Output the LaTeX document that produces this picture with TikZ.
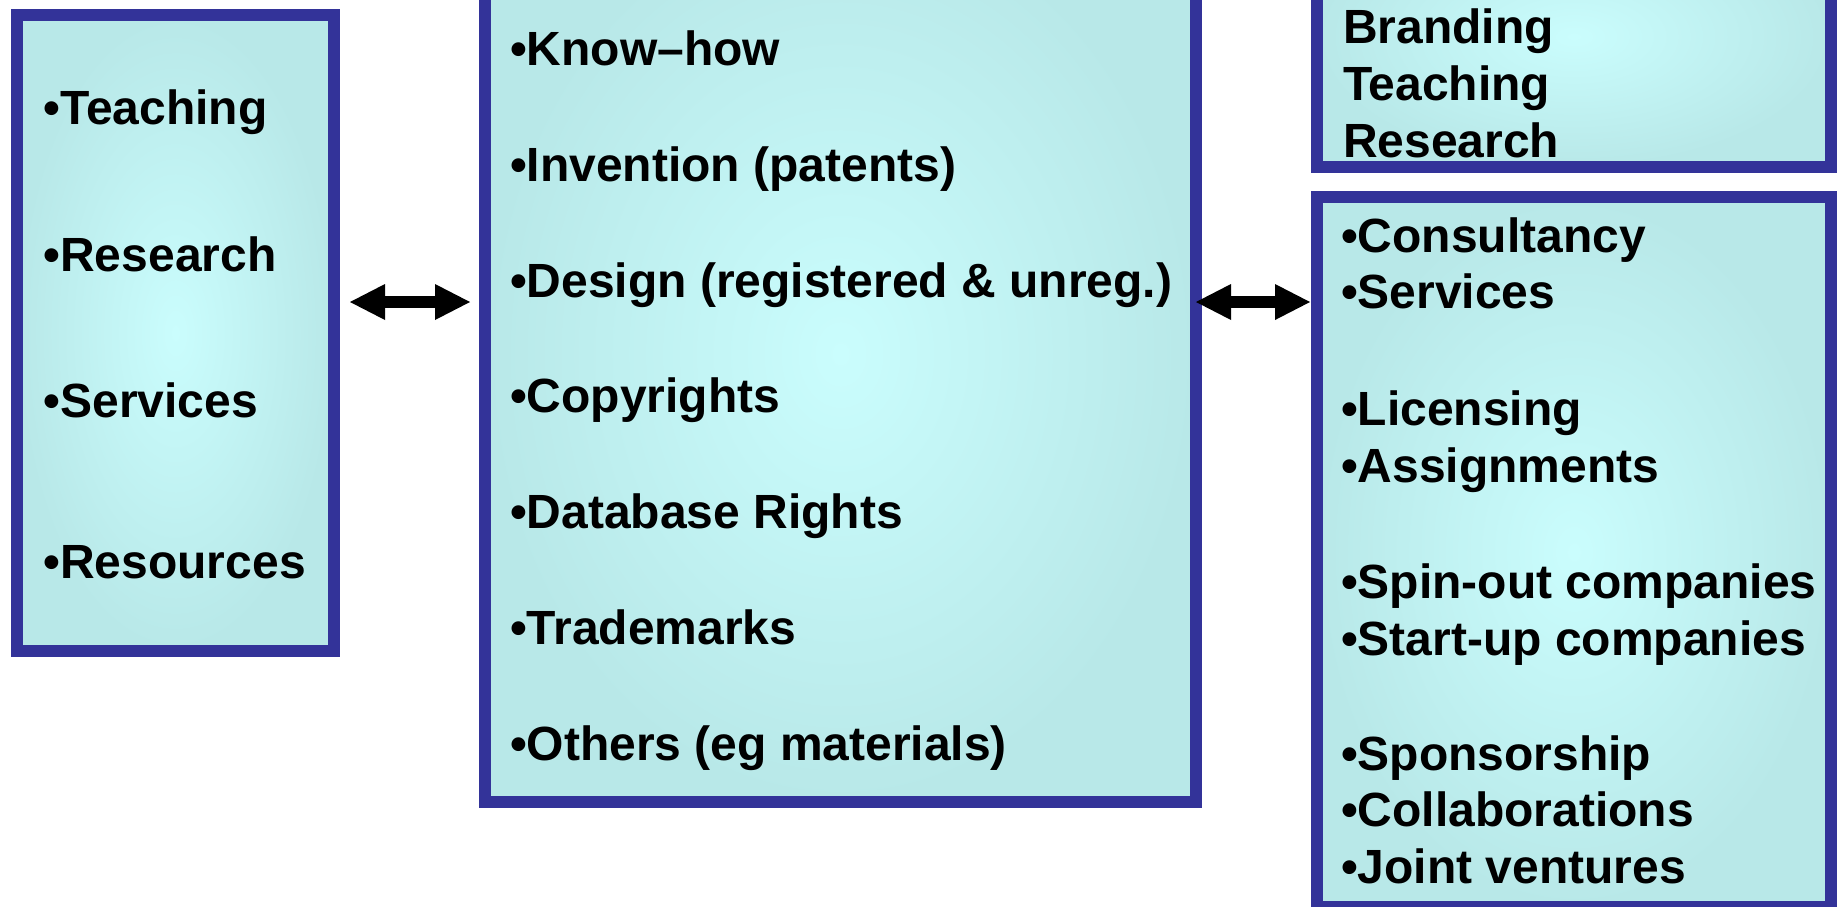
\documentclass[tikz,border=0pt]{standalone}
\usepackage{fontspec}
\setmainfont{Liberation Sans}
\usetikzlibrary{arrows.meta}
\definecolor{boxborder}{RGB}{51,51,153}
\definecolor{glowin}{RGB}{202,253,253}
\definecolor{glowout}{RGB}{184,232,232}
\tikzset{
  panel/.style={draw=boxborder, line width=6pt, inner color=glowin, outer color=glowout,
    inner sep=0pt, outer sep=0pt},
  item/.style={anchor=base west, inner sep=0pt, outer sep=0pt,
    font=\bfseries\fontsize{24}{28}\selectfont},
  dblarrow/.style={line width=6pt, draw=black,
    {Triangle[length=17.5pt,width=18pt,line width=0pt]}-{Triangle[length=17.5pt,width=18pt,line width=0pt]}}
}
\begin{document}
\begin{tikzpicture}[x=0.5pt,y=-0.5pt]
\useasboundingbox (0,0) rectangle (1839,906);
\clip (0,0) rectangle (1839,906);
% boxes
\node[panel, minimum width=158.5pt, minimum height=318pt] (L) at (175.5,333) {};
\node[panel, minimum width=355.5pt, minimum height=448pt] (M) at (840.5,354) {};
\node[panel, minimum width=257pt, minimum height=130.5pt] (RT) at (1574,36.5) {};
\node[panel, minimum width=257pt, minimum height=355pt] (RB) at (1574,552) {};
% left items
\node[item] (l1) at (43.5,124) {•Teaching};
\node[item] (l2) at (43.5,271) {•Research};
\node[item] (l3) at (43.5,417) {•Services};
\node[item] (l4) at (43.5,578) {•Resources};
% middle items
\node[item] (m1) at (510,65) {•Know–how};
\node[item] (m2) at (510,181) {•Invention (patents)};
\node[item] (m3) at (510,297) {•Design (registered \& unreg.)};
\node[item] (m4) at (510,412) {•Copyrights};
\node[item] (m5) at (510,528) {•Database Rights};
\node[item] (m6) at (510,644) {•Trademarks};
\node[item] (m7) at (510,760) {•Others (eg materials)};
% top right items
\node[item] (r1) at (1343,43) {Branding};
\node[item] (r2) at (1343,100) {Teaching};
\node[item] (r3) at (1343,157) {Research};
% bottom right items
\node[item] (b1) at (1341,252) {•Consultancy};
\node[item] (b2) at (1341,308) {•Services};
\node[item] (b3) at (1341,425) {•Licensing};
\node[item] (b4) at (1341,482) {•Assignments};
\node[item] (b5) at (1341,598) {•Spin-out companies};
\node[item] (b6) at (1341,655) {•Start-up companies};
\node[item] (b7) at (1341,770) {•Sponsorship};
\node[item] (b8) at (1341,826) {•Collaborations};
\node[item] (b9) at (1341,883) {•Joint ventures};
% arrows
\coordinate (ay) at (0,302);
\draw[dblarrow, shorten <=8pt, shorten >=7.5pt] (L.east |- ay) -- (M.west |- ay);
\draw[dblarrow, shorten >=3.5pt] (M.east |- ay) -- (RB.west |- ay);
\end{tikzpicture}
\end{document}
